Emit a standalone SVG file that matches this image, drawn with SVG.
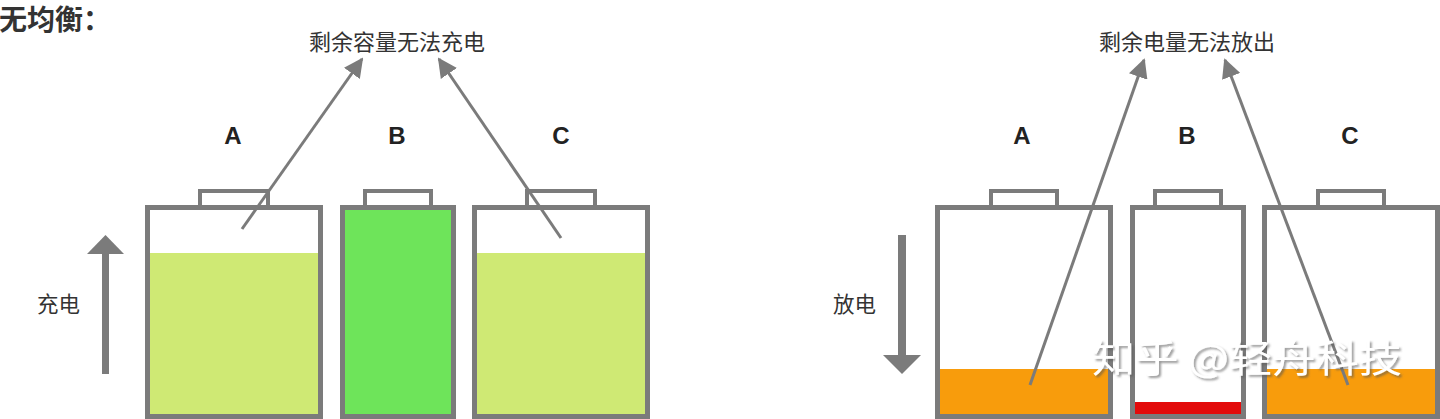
<svg xmlns="http://www.w3.org/2000/svg" width="1440" height="419" viewBox="0 0 1440 419">
<style>
.shell{fill:#fff;stroke:#7b7b7b;stroke-width:5}
.cap{fill:#fff;stroke:#7b7b7b;stroke-width:4}
.lbl{font-family:"Liberation Sans","Noto Sans CJK SC",sans-serif;font-weight:bold;font-size:24px;fill:#222;text-anchor:middle}
.cn{font-family:"Noto Sans CJK SC","Liberation Sans",sans-serif;fill:#333}
.conn{stroke:#7b7b7b;stroke-width:3;fill:none}
.lite{fill:#cfe974}
.orange{fill:#f89c0c}
</style>
<defs>
<marker id="ah" viewBox="0 0 10 10" refX="9" refY="5" markerWidth="6.5" markerHeight="6.5" orient="auto" markerUnits="strokeWidth">
<path d="M0,0 L10,5 L0,10 z" fill="#7b7b7b"/>
</marker>
<filter id="sh" x="-5%" y="-20%" width="110%" height="140%">
<feDropShadow dx="2" dy="2" stdDeviation="1" flood-color="#555" flood-opacity="0.6"/>
</filter>
</defs>
<rect width="1440" height="419" fill="#fff"/>
<text x="-1" y="30" class="cn" font-size="28" font-weight="bold" fill="#222">无均衡：</text>

<g id="left-A">
<rect class="cap" x="200" y="191" width="68" height="17"/>
<rect class="shell" x="147.5" y="207.5" width="173" height="209"/>
<rect class="lite" x="150" y="253" width="168" height="161"/>
<text class="lbl" x="233" y="144">A</text>
</g>
<g id="left-B">
<rect class="cap" x="365" y="191" width="66" height="17"/>
<rect class="shell" x="342.5" y="207.5" width="111" height="209"/>
<rect fill="#6ee45a" x="345" y="210" width="106" height="204"/>
<text class="lbl" x="397" y="144">B</text>
</g>
<g id="left-C">
<rect class="cap" x="527" y="191" width="68" height="17"/>
<rect class="shell" x="474.5" y="207.5" width="173" height="209"/>
<rect class="lite" x="477" y="253" width="168" height="161"/>
<text class="lbl" x="561" y="144">C</text>
</g>
<g id="charge">
<rect x="102" y="252" width="7" height="122" fill="#7b7b7b"/>
<path d="M87,254 L105.5,235 L124,254 z" fill="#7b7b7b"/>
<text class="cn" x="37" y="312" font-size="21.5">充电</text>
</g>
<g id="note-left">
<text class="cn" x="397" y="50" font-size="22" text-anchor="middle">剩余容量无法充电</text>
</g>

<g id="right-A">
<rect class="cap" x="991" y="191" width="66" height="17"/>
<rect class="shell" x="937.5" y="207.5" width="173" height="209"/>
<rect class="orange" x="940" y="369" width="168" height="45"/>
<text class="lbl" x="1022" y="144">A</text>
</g>
<g id="right-B">
<rect class="cap" x="1155" y="191" width="66" height="17"/>
<rect class="shell" x="1132.5" y="207.5" width="111" height="209"/>
<rect fill="#e30b0b" x="1135" y="402" width="106" height="12"/>
<text class="lbl" x="1187" y="144">B</text>
</g>
<g id="right-C">
<rect class="cap" x="1318" y="191" width="66" height="17"/>
<rect class="shell" x="1264.5" y="207.5" width="173" height="209"/>
<rect class="orange" x="1267" y="369" width="168" height="45"/>
<text class="lbl" x="1350" y="144">C</text>
</g>
<g id="discharge">
<rect x="898" y="235" width="8" height="122" fill="#7b7b7b"/>
<path d="M883,355 L902,374 L921,355 z" fill="#7b7b7b"/>
<text class="cn" x="833" y="312" font-size="21.5">放电</text>
</g>
<g id="note-right">
<text class="cn" x="1187" y="50" font-size="22" text-anchor="middle">剩余电量无法放出</text>
</g>

<g id="connectors">
<line class="conn" x1="242" y1="229" x2="362" y2="59" marker-end="url(#ah)"/>
<line class="conn" x1="561" y1="238" x2="439" y2="59" marker-end="url(#ah)"/>
<line class="conn" x1="1030" y1="385" x2="1144" y2="60" marker-end="url(#ah)"/>
<line class="conn" x1="1348" y1="385" x2="1225" y2="60" marker-end="url(#ah)"/>
</g>

<g id="watermark">
<text x="1092" y="372" font-family="Noto Sans CJK SC,sans-serif" font-size="38" fill="#fff" filter="url(#sh)" textLength="310" lengthAdjust="spacingAndGlyphs">知乎 @轻舟科技</text>
</g>
</svg>
